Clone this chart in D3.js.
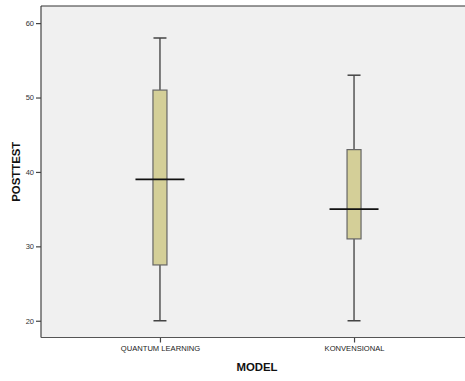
<!DOCTYPE html>
<html><head><meta charset="utf-8">
<script src="https://cdn.jsdelivr.net/npm/d3@7"></script>
<style>body{margin:0;background:#fff;}svg{display:block;font-family:"Liberation Sans",Arial,sans-serif;}</style>
</head><body>
<svg id="c" width="465" height="381"></svg>
<script>
const categories = ["QUANTUM LEARNING", "KONVENSIONAL"];
const minVals = [20, 20];
const q1Vals = [27.5, 31];
const medianVals = [39, 35];
const q3Vals = [51, 43];
const maxVals = [58, 53];
const yTicks = [20, 30, 40, 50, 60];

const svg = d3.select("#c");
const pLeft = 41, pRight = 473, pTop = 6, pBottom = 337.5;

const x = d3.scalePoint().domain(categories).range([pLeft, pRight]).padding(0.613);
const y = d3.scaleLinear().domain([17.75, 62.3]).range([pBottom, pTop]);

svg.append("rect").attr("x", pLeft).attr("y", pTop).attr("width", pRight - pLeft).attr("height", pBottom - pTop)
  .attr("fill", "#f0f0f0");

// axes
const yAxis = d3.axisLeft(y).tickValues(yTicks).tickSize(5).tickPadding(2);
const gy = svg.append("g").attr("transform", `translate(${pLeft},0)`).call(yAxis);
gy.select(".domain").remove();
gy.selectAll(".tick line").attr("stroke", "#444").attr("stroke-width", 1.2);
gy.selectAll(".tick text").attr("font-size", "7.5px").attr("fill", "#333").attr("font-family", '"Liberation Sans",Arial,sans-serif');

const xAxis = d3.axisBottom(x).tickSize(5).tickPadding(3);
const gx = svg.append("g").attr("transform", `translate(0,${pBottom})`).call(xAxis);
gx.select(".domain").remove();
gx.selectAll(".tick line").attr("stroke", "#444").attr("stroke-width", 1.2);
gx.selectAll(".tick text").attr("font-size", "7.6px").attr("fill", "#222").attr("font-family", '"Liberation Sans",Arial,sans-serif');

// frame lines
svg.append("line").attr("x1", pLeft).attr("x2", pLeft).attr("y1", pTop).attr("y2", pBottom).attr("stroke", "#444").attr("stroke-width", 1.2);
svg.append("line").attr("x1", pLeft).attr("x2", pRight).attr("y1", pTop).attr("y2", pTop).attr("stroke", "#333").attr("stroke-width", 1.2);
svg.append("line").attr("x1", pLeft).attr("x2", pRight).attr("y1", pBottom).attr("y2", pBottom).attr("stroke", "#555").attr("stroke-width", 1.2);

const data = categories.map((c, i) => ({c, min: minVals[i], q1: q1Vals[i], med: medianVals[i], q3: q3Vals[i], max: maxVals[i]}));
const boxW = 14, capW = 13, medW = 49;

const g = svg.selectAll("g.box").data(data).enter().append("g").attr("class", "box");
// whiskers
g.append("line").attr("x1", d => x(d.c)).attr("x2", d => x(d.c)).attr("y1", d => y(d.q3)).attr("y2", d => y(d.max))
  .attr("stroke", "#555").attr("stroke-width", 1.5);
g.append("line").attr("x1", d => x(d.c)).attr("x2", d => x(d.c)).attr("y1", d => y(d.q1)).attr("y2", d => y(d.min))
  .attr("stroke", "#555").attr("stroke-width", 1.5);
// caps
g.append("line").attr("x1", d => x(d.c) - capW / 2).attr("x2", d => x(d.c) + capW / 2).attr("y1", d => y(d.max)).attr("y2", d => y(d.max))
  .attr("stroke", "#444").attr("stroke-width", 1.5);
g.append("line").attr("x1", d => x(d.c) - capW / 2).attr("x2", d => x(d.c) + capW / 2).attr("y1", d => y(d.min)).attr("y2", d => y(d.min))
  .attr("stroke", "#444").attr("stroke-width", 1.5);
// box
g.append("rect").attr("x", d => x(d.c) - boxW / 2).attr("width", boxW)
  .attr("y", d => y(d.q3)).attr("height", d => y(d.q1) - y(d.q3))
  .attr("fill", "#d4cf98").attr("stroke", "#666").attr("stroke-width", 1.2);
// median
g.append("line").attr("x1", d => x(d.c) - medW / 2).attr("x2", d => x(d.c) + medW / 2).attr("y1", d => y(d.med)).attr("y2", d => y(d.med))
  .attr("stroke", "#111").attr("stroke-width", 1.8);

// axis titles
svg.append("text").attr("x", (pLeft + pRight) / 2).attr("y", 370.5).attr("text-anchor", "middle")
  .attr("font-size", "11.4px").attr("font-weight", "bold").attr("fill", "#111").text("MODEL");
svg.append("text").attr("transform", `translate(19.5,${(pTop + pBottom) / 2}) rotate(-90)`).attr("text-anchor", "middle")
  .attr("font-size", "11.4px").attr("font-weight", "bold").attr("fill", "#111").text("POSTTEST");
</script>
</body></html>
